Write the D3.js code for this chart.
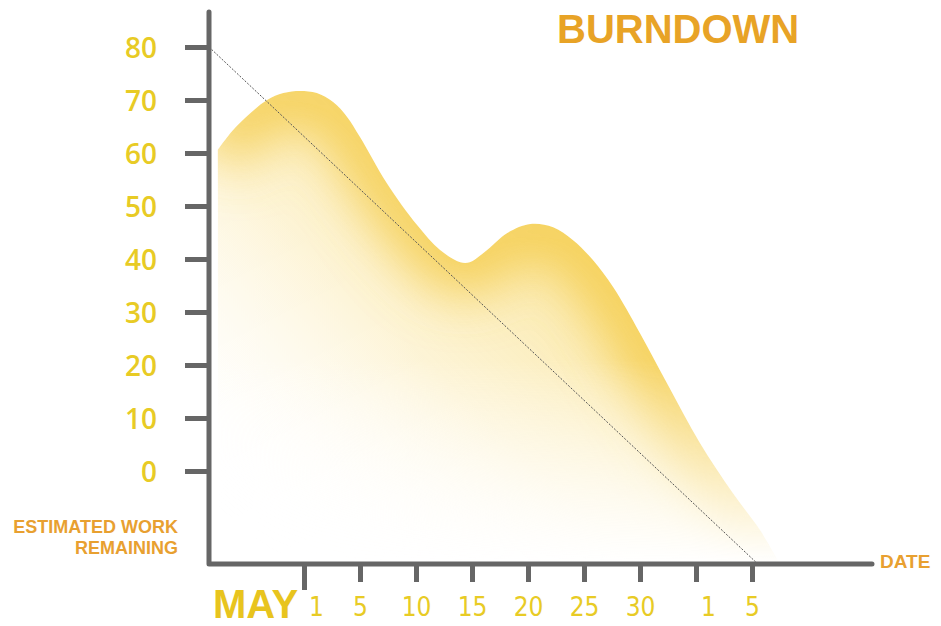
<!DOCTYPE html>
<html>
<head>
<meta charset="utf-8">
<script src="https://cdn.jsdelivr.net/npm/d3@7"></script>
<style>
  body { margin: 0; background: #fff; }
  svg { display: block; }
</style>
</head>
<body>
<div id="chart"></div>
<script>
// values
const workTicks = [0, 10, 20, 30, 40, 50, 60, 70, 80];
const dateLabels = ["1", "5", "10", "15", "20", "25", "30", "1", "5"];
const monthLabel = "MAY";

// actual work remaining, x counted in date ticks (0 = May 1)
const actualX = [-1.54, -1.27, -0.96, -0.66, -0.37, -0.07, 0.23, 0.52, 0.77, 1.0, 1.48, 2.02, 2.43, 2.79, 2.96, 3.27, 3.63, 4.04, 4.45, 4.80, 5.16, 5.52, 6.0, 6.48, 7.07, 7.66, 8.14, 8.5];
const actualY = [60.6, 64.3, 67.5, 70.0, 71.3, 71.7, 71.3, 69.6, 66.8, 63.0, 54.3, 46.4, 41.7, 39.4, 39.4, 41.7, 44.9, 46.6, 46.0, 43.6, 39.8, 34.7, 26.0, 16.6, 5.3, -4.2, -11.1, -17.5];

// ideal burndown line
const idealX = [-1.7, 8.1];
const idealY = [80, -17.5];

const width = 941, height = 626;
const plotLeft = 209, plotBottom = 564, plotTop = 12, plotRight = 872;
const floorValue = -17.5;

const svg = d3.select("#chart").append("svg")
  .attr("width", width)
  .attr("height", height);

const x = d3.scaleLinear().domain([0, 8]).range([304, 752]);
const y = d3.scaleLinear().domain([0, 80]).range([471, 47]);

const pts = actualX.map((d, i) => [d, actualY[i]]);

const area = d3.area()
  .x(d => x(d[0]))
  .y0(y(floorValue))
  .y1(d => y(d[1]))
  .curve(d3.curveCatmullRom);

const line = d3.line()
  .x(d => x(d[0]))
  .y(d => y(d[1]))
  .curve(d3.curveCatmullRom);

const defs = svg.append("defs");

defs.append("clipPath").attr("id", "areaClip")
  .append("path").attr("d", area(pts));

const base = defs.append("linearGradient").attr("id", "baseGrad")
  .attr("gradientUnits", "userSpaceOnUse")
  .attr("x1", 230).attr("y1", 520).attr("x2", 620).attr("y2", 120);
base.append("stop").attr("offset", 0).attr("stop-color", "#ffffff").attr("stop-opacity", 0);
base.append("stop").attr("offset", 0.45).attr("stop-color", "#fcefc4").attr("stop-opacity", 0.7);
base.append("stop").attr("offset", 1).attr("stop-color", "#f7da72").attr("stop-opacity", 0.9);

const fade = defs.append("linearGradient").attr("id", "fadeGrad")
  .attr("gradientUnits", "userSpaceOnUse")
  .attr("x1", 0).attr("y1", 360).attr("x2", 0).attr("y2", 565);
fade.append("stop").attr("offset", 0).attr("stop-color", "#fff");
fade.append("stop").attr("offset", 1).attr("stop-color", "#000");

defs.append("mask").attr("id", "fadeMask")
  .attr("maskUnits", "userSpaceOnUse")
  .attr("x", 0).attr("y", 0).attr("width", width).attr("height", height)
  .append("rect")
  .attr("width", width).attr("height", height)
  .attr("fill", "url(#fadeGrad)");

defs.append("filter").attr("id", "soft")
  .attr("filterUnits", "userSpaceOnUse")
  .attr("x", 0).attr("y", 0).attr("width", width).attr("height", height)
  .append("feGaussianBlur").attr("stdDeviation", 26);

// shaded area
const shade = svg.append("g")
  .attr("clip-path", "url(#areaClip)")
  .attr("mask", "url(#fadeMask)");

shade.append("path")
  .attr("d", area(pts))
  .attr("fill", "url(#baseGrad)");

shade.append("path")
  .attr("d", line(pts))
  .attr("fill", "none")
  .attr("stroke", "#f4cb48")
  .attr("stroke-opacity", 0.85)
  .attr("stroke-width", 64)
  .attr("filter", "url(#soft)");

// ideal line
svg.append("line")
  .attr("x1", plotLeft).attr("y1", y(idealY[0]))
  .attr("x2", x(idealX[1])).attr("y2", y(idealY[1]))
  .attr("stroke", "#555")
  .attr("stroke-width", 1)
  .attr("stroke-dasharray", "2,1.5");

// y axis ticks + labels
const yAxis = svg.append("g")
  .attr("transform", `translate(${plotLeft},0)`)
  .call(d3.axisLeft(y).tickValues(workTicks).tickSize(24).tickPadding(28));
yAxis.select(".domain").remove();
yAxis.selectAll(".tick line").attr("stroke", "#666").attr("stroke-width", 5);
yAxis.selectAll(".tick text")
  .attr("fill", "#e8cb25")
  .attr("dy", "0.36em")
  .style("font-family", "'Open Sans', sans-serif")
  .style("font-weight", 600)
  .style("font-size", "28px");

// x axis ticks + labels
const xAxis = svg.append("g")
  .attr("transform", `translate(0,${plotBottom})`)
  .call(d3.axisBottom(x).tickValues(d3.range(dateLabels.length))
    .tickFormat(i => dateLabels[i]).tickSize(18));
xAxis.select(".domain").remove();
xAxis.selectAll(".tick line").attr("stroke", "#666").attr("stroke-width", 5);
xAxis.select(".tick line").attr("y2", 26);
xAxis.selectAll(".tick text")
  .attr("y", 52).attr("dy", 0)
  .attr("dx", i => dateLabels[i] === "1" ? 12 : 0)
  .attr("fill", "#e8cb25")
  .style("font-family", "'Liberation Sans Narrow', 'DejaVu Sans Condensed', sans-serif")
  .style("font-size", "26px");

// axis lines
svg.append("path")
  .attr("d", `M${plotLeft},${plotTop}V${plotBottom}H${plotRight}`)
  .attr("fill", "none")
  .attr("stroke", "#666")
  .attr("stroke-width", 5)
  .attr("stroke-linecap", "round")
  .attr("stroke-linejoin", "round");

// texts
svg.append("text")
  .attr("x", 557).attr("y", 43)
  .attr("fill", "#e8a326")
  .style("font-family", "'Liberation Sans', Arial, sans-serif")
  .style("font-weight", "bold")
  .style("font-size", "40px")
  .text("BURNDOWN");

svg.append("text")
  .attr("x", 213).attr("y", 618)
  .attr("fill", "#e8c41e")
  .style("font-family", "'Liberation Sans Narrow', 'Liberation Sans', sans-serif")
  .style("font-weight", "bold")
  .style("font-size", "40px")
  .text(monthLabel);

const axisTitle = svg.append("g")
  .attr("fill", "#e8a030")
  .style("font-family", "'Liberation Sans', Arial, sans-serif")
  .style("font-weight", "bold")
  .style("font-size", "18px")
  .attr("text-anchor", "end");
axisTitle.append("text").attr("x", 178).attr("y", 533).text("ESTIMATED WORK");
axisTitle.append("text").attr("x", 178).attr("y", 554).text("REMAINING");

svg.append("text")
  .attr("x", 880).attr("y", 568)
  .attr("fill", "#e8a030")
  .style("font-family", "'Liberation Sans', Arial, sans-serif")
  .style("font-weight", "bold")
  .style("font-size", "19px")
  .text("DATE");
</script>
</body>
</html>
